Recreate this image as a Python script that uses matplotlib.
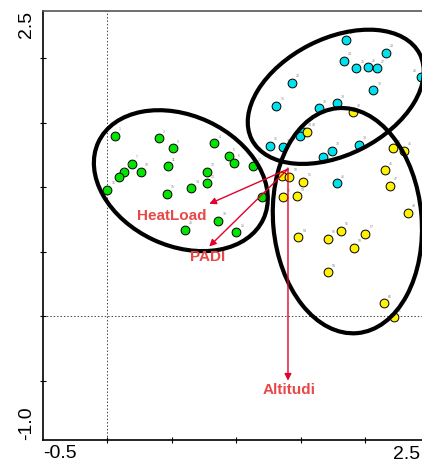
import matplotlib
matplotlib.use("Agg")
import matplotlib.pyplot as plt
from matplotlib.patches import Ellipse

plt.rcParams['font.family'] = ['Liberation Sans', 'DejaVu Sans']

# ---- data ----
green_x = [0.06, 0.40, 0.51, 0.83, 0.94, 0.98, 0.19, 0.13, 0.09, 0.26, 0.47,
           0.77, 0.77, 0.65, 0.46, 0.00, 1.13, 1.20, 0.86, 0.60, 1.00]
green_y = [1.40, 1.38, 1.30, 1.34, 1.24, 1.19, 1.18, 1.12, 1.08, 1.12, 1.16,
           1.12, 1.03, 0.99, 0.95, 0.98, 1.16, 0.92, 0.74, 0.67, 0.65]

cyan_x = [1.85, 2.16, 1.83, 1.93, 2.02, 2.09, 2.43, 1.43, 2.06, 1.31,
          1.64, 1.78, 1.52, 1.49, 1.26, 1.36, 1.95, 1.74, 1.67, 1.78]
cyan_y = [2.14, 2.04, 1.98, 1.92, 1.93, 1.92, 1.85, 1.81, 1.75, 1.63,
          1.61, 1.65, 1.43, 1.40, 1.32, 1.31, 1.33, 1.28, 1.23, 1.03]

yellow_x = [1.90, 1.55, 2.21, 2.30, 2.15, 2.19, 2.33, 1.35, 1.41, 1.52,
            1.36, 1.47, 1.48, 1.71, 1.81, 2.00, 1.91, 1.71, 2.14, 2.22]
yellow_y = [1.58, 1.43, 1.30, 1.28, 1.13, 1.01, 0.80, 1.09, 1.08, 1.04,
            0.92, 0.93, 0.61, 0.60, 0.66, 0.64, 0.53, 0.34, 0.10, -0.01]

arrow_origin = (1.40, 1.14)
arrow_names = ['HeatLoad', 'PADI', 'Altitudi']
arrow_tip_x = [0.79, 0.79, 1.40]
arrow_tip_y = [0.87, 0.54, -0.50]
arrow_label_x = [0.50, 0.78, 1.41]
arrow_label_y = [0.78, 0.46, -0.57]

# ellipses: centre x, centre y, width, height, angle
ell_cx = [0.57, 1.77, 1.86]
ell_cy = [1.05, 1.70, 0.74]
ell_w = [1.41, 1.46, 1.75]
ell_h = [1.01, 0.90, 1.15]
ell_ang = [-25, 27, 95]

xlim = (-0.5, 2.5)
ylim = (-0.96, 2.365)
xtick_vals = [0.0, 0.5, 1.0, 1.5, 2.0]
ytick_vals = [-0.5, 0.0, 0.5, 1.0, 1.5, 2.0]
x_end_labels = ['-0.5', '2.5']
y_end_labels = ['-1.0', '2.5']

# ---- figure ----
fig = plt.figure(figsize=(4.22, 4.66), dpi=100)
ax = fig.add_axes([42.7 / 422, 26 / 466, 387.3 / 422, 429 / 466])
ax.set_xlim(*xlim)
ax.set_ylim(*ylim)

ax.axvline(0, color='#444444', lw=0.7, ls=(0, (1.5, 2)), zorder=1)
ax.axhline(0, color='#444444', lw=0.7, ls=(0, (1.5, 2)), zorder=1)

groups = [(green_x, green_y, '#00e400'), (cyan_x, cyan_y, '#00e1ef'),
          (yellow_x, yellow_y, '#fff200')]
n = 1
for gx, gy, c in groups:
    ax.scatter(gx, gy, s=40, c=c, edgecolors='black', linewidths=0.7, zorder=3)
    for x, y in zip(gx, gy):
        if x > 2.38:
            ax.annotate(str(n), (x, y), xytext=(-3, 4), textcoords='offset points',
                        fontsize=2.5, color='#888888', ha='right', zorder=3)
        else:
            ax.annotate(str(n), (x, y), xytext=(3, 4), textcoords='offset points',
                        fontsize=2.5, color='#888888', zorder=3)
        n += 1

for cx, cy, w, h, a in zip(ell_cx, ell_cy, ell_w, ell_h, ell_ang):
    ax.add_patch(Ellipse((cx, cy), w, h, angle=a, fill=False, edgecolor='black',
                         lw=3.0, zorder=4))

for name, tx, ty, lx, ly in zip(arrow_names, arrow_tip_x, arrow_tip_y,
                                arrow_label_x, arrow_label_y):
    ax.annotate('', xy=(tx, ty), xytext=arrow_origin,
                arrowprops=dict(arrowstyle='-|>', color='#e3002b', lw=1.0,
                                mutation_scale=10, shrinkA=0, shrinkB=0),
                zorder=5)
    ax.text(lx, ly, name, color='#e84848', fontsize=11, fontweight='bold',
            ha='center', va='center', zorder=6)

for s in ['left', 'bottom']:
    ax.spines[s].set_linewidth(1.2)
    ax.spines[s].set_color('black')
ax.spines['top'].set_linewidth(1.2)
ax.spines['top'].set_color('#555555')
ax.spines['right'].set_visible(False)

ax.set_xticks(xtick_vals)
ax.set_yticks(ytick_vals)
ax.tick_params(direction='inout', length=5, width=0.8, labelbottom=False,
               labelleft=False)

ax.text(0, -0.012, x_end_labels[0], transform=ax.transAxes, ha='left', va='top',
        fontsize=14)
ax.text(420 / 422, 1 - 446 / 466, x_end_labels[1], transform=fig.transFigure,
        ha='right', va='top', fontsize=14)
ax.text(-0.02, 0, y_end_labels[0], transform=ax.transAxes, ha='right',
        va='bottom', rotation=90, fontsize=14)
ax.text(-0.02, 1, y_end_labels[1], transform=ax.transAxes, ha='right',
        va='top', rotation=90, fontsize=14)

fig.savefig('out.png', dpi=100)
